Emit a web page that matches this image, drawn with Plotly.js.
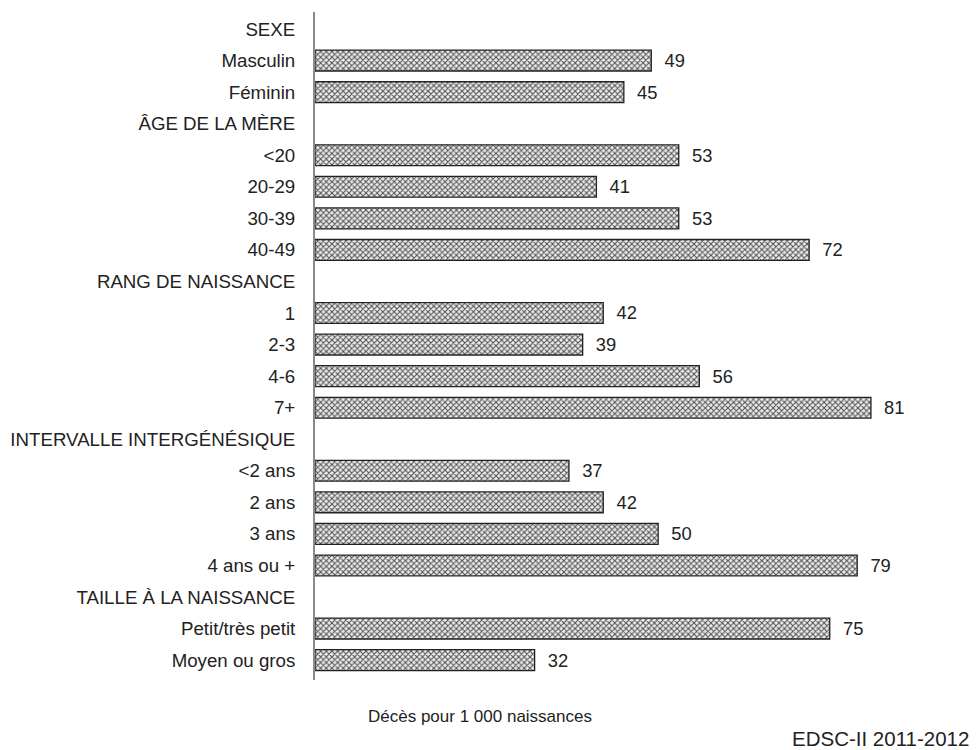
<!DOCTYPE html>
<html>
<head>
<meta charset="utf-8">
<script src="https://cdn.plot.ly/plotly-3.0.1.min.js"></script>
<style>html,body{margin:0;padding:0;background:#fff;}#chart{width:979px;height:750px;}</style>
</head>
<body>
<div id="chart"></div>
<script>
var categories = ["SEXE","Masculin","Féminin","ÂGE DE LA MÈRE","<20","20-29","30-39","40-49",
  "RANG DE NAISSANCE","1","2-3","4-6","7+","INTERVALLE INTERGÉNÉSIQUE","<2 ans","2 ans","3 ans","4 ans ou +",
  "TAILLE À LA NAISSANCE","Petit/très petit","Moyen ou gros"];
var values = [null,49,45,null,53,41,53,72,null,42,39,56,81,null,37,42,50,79,null,75,32];
var xTitle = "Décès pour 1 000 naissances";
var source = "EDSC-II 2011-2012";

var font = "Liberation Sans, Arial, sans-serif";
var trace = {
  type: "bar",
  orientation: "h",
  y: categories,
  x: values,
  width: 0.66,
  marker: {
    color: "#ffffff",
    line: {color: "#222222", width: 1.3},
    pattern: {shape: "x", fgcolor: "#505050", bgcolor: "#ececec", size: 4, solidity: 0.45}
  },
  text: values.map(function(v){ return v === null ? "" : "\u00a0\u00a0" + v; }),
  textposition: "outside",
  cliponaxis: false,
  textfont: {family: font, size: 18.5, color: "#222222"},
  hoverinfo: "none"
};

var layout = {
  width: 979, height: 750,
  margin: {l: 315, r: 12, t: 12, b: 70},
  paper_bgcolor: "#ffffff", plot_bgcolor: "#ffffff",
  showlegend: false,
  font: {family: font, size: 18.5, color: "#222222"},
  xaxis: {range: [0, 95], showgrid: false, zeroline: false, showline: false, showticklabels: false, ticks: ""},
  yaxis: {type: "category", categoryorder: "array", categoryarray: categories,
    range: [20.63, -0.54], showgrid: false, zeroline: false,
    showline: true, linecolor: "#8a8a8a", linewidth: 2, ticks: "",
    ticklabelstandoff: 14, tickfont: {family: font, size: 18.7, color: "#222222"}},
  annotations: [
    {text: xTitle, xref: "paper", yref: "paper", x: (480-315)/652, y: 0, yshift: -36,
     xanchor: "center", yanchor: "middle", showarrow: false, font: {family: font, size: 17, color: "#222222"}},
    {text: source, xref: "paper", yref: "paper", x: (971-315)/652, y: 0, yshift: -58,
     xanchor: "right", yanchor: "middle", showarrow: false, font: {family: font, size: 20.5, color: "#222222"}}
  ]
};

Plotly.newPlot("chart", [trace], layout, {displayModeBar: false, staticPlot: true});
</script>
</body>
</html>
